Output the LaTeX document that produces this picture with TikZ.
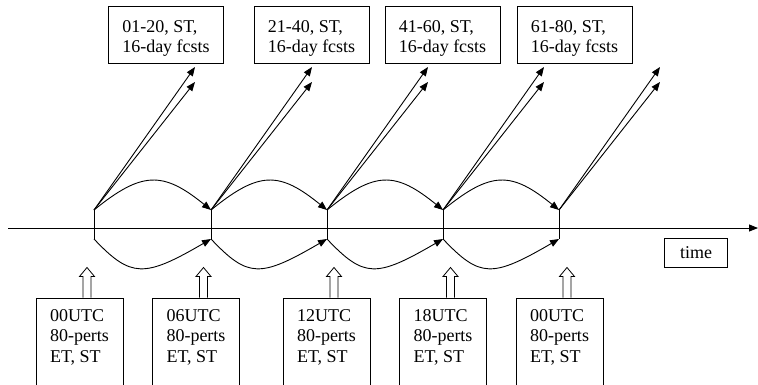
\documentclass[tikz,border=0pt]{standalone}
\usepackage{fontspec}
\setmainfont{Liberation Serif}
\usetikzlibrary{arrows.meta,calc}

% left-aligned stack of lines, baseline on the first line
\newcommand{\rows}[1]{\begin{tabular}[t]{@{}l@{}}#1\end{tabular}}
\newcommand{\fcstfont}{\fontsize{18bp}{20bp}\selectfont}
\newcommand{\cyclefont}{\fontsize{18bp}{20.5bp}\selectfont}
% open block arrow standing on top of an input box
\newcommand{\feedarrow}[1]{%
  \draw[hollow] ($(#1.north)+(3.5,0)$) -- ++(0,-21) -- ++(-3.5,0) -- ++(7.5,-9)
    -- ++(7.5,9) -- ++(-3.5,0) -- ++(0,21);}

\begin{document}
\begin{tikzpicture}[x=1bp,y=-1bp,line width=0.9bp,
  tip/.style={-{Triangle[length=9bp,width=7bp]}},
  fcstbox/.style={draw,minimum width=115bp,minimum height=57bp,inner sep=0pt,
    text height=20bp,text depth=26bp,font=\fcstfont},
  cyclebox/.style={draw,anchor=north,minimum width=87bp,inner xsep=0pt,inner ysep=9bp,
    text depth=100bp,font=\cyclefont},
  timebox/.style={draw,minimum width=63bp,minimum height=29bp,inner sep=0pt,font=\fcstfont},
  hollow/.style={draw,fill=white,line width=0.8bp}]
\useasboundingbox (0,0) rectangle (758,384);
\clip (0,0) rectangle (758,384);

% time axis
\coordinate (axL) at (8,228);
\coordinate (axR) at (758,228);
\draw[tip] (axL) -- (axR);

% analysis times: top and bottom of each bar, and the ends of the forecast arrows
\foreach \i/\x in {1/94,2/211,3/327,4/443,5/559}{
  \coordinate (t\i) at (\x,210);
  \coordinate (b\i) at (\x,239);
  \coordinate (fa\i) at (\x+101,67);
  \coordinate (fb\i) at (\x+101,82);
}

% bars and 16-day forecast arrows
\foreach \i in {1,...,5}{
  \draw (t\i) -- (b\i);
  \draw[tip] (t\i) -- (fa\i);
  \draw[tip] (t\i) -- (fb\i);
}

% cycling between analysis times
\foreach \i/\j in {1/2,2/3,3/4,4/5}{
  \draw[tip] (t\i) .. controls +(48,-39) and +(-48,-39) .. (t\j);
  \draw[tip] (b\i) .. controls +(37,39) and +(-67,39) .. (b\j);
}

% forecast boxes
\node[fcstbox] (f1) at (166,35)   {\rows{01-20, ST,\\16-day fcsts}};
\node[fcstbox] (f2) at (311.5,35) {\rows{21-40, ST,\\16-day fcsts}};
\node[fcstbox] (f3) at (442.5,35) {\rows{41-60, ST,\\16-day fcsts}};
\node[fcstbox] (f4) at (574.5,35) {\rows{61-80, ST,\\16-day fcsts}};

% cycle input boxes
\node[cyclebox] (s1) at (79.5,297.5) {\rows{00UTC\\80-perts\\ET, ST}};
\node[cyclebox] (s2) at (196,297.5)  {\rows{06UTC\\80-perts\\ET, ST}};
\node[cyclebox] (s3) at (326.5,297.5){\rows{12UTC\\80-perts\\ET, ST}};
\node[cyclebox] (s4) at (443,297.5)  {\rows{18UTC\\80-perts\\ET, ST}};
\node[cyclebox] (s5) at (559.5,297.5){\rows{00UTC\\80-perts\\ET, ST}};

\feedarrow{s1}
\feedarrow{s2}
\feedarrow{s3}
\feedarrow{s4}
\feedarrow{s5}

\node[timebox] (tm) at (696,253) {time};
\end{tikzpicture}
\end{document}
